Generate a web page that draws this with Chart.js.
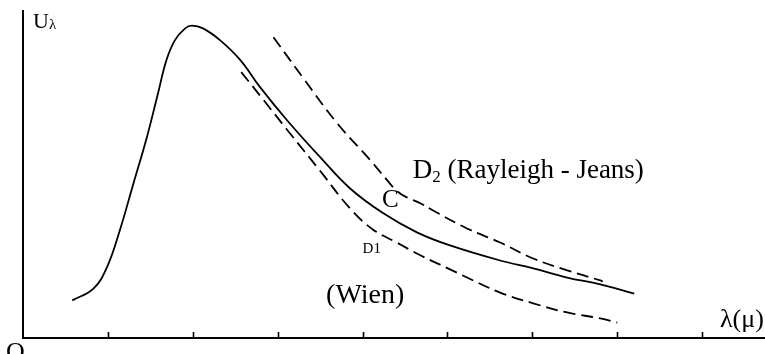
<!DOCTYPE html>
<html>
<head>
<meta charset="utf-8">
<script src="https://cdn.jsdelivr.net/npm/chart.js@4/dist/chart.umd.min.js"></script>
<style>
html, body { margin: 0; padding: 0; background: #fff; }
#wrap { width: 765px; height: 354px; }
</style>
</head>
<body>
<div id="wrap"><canvas id="chart"></canvas></div>
<script>
// wavelength in tick units, intensity 0-100
const planckX = [0.58, 0.83, 0.99, 1.14, 1.30, 1.46, 1.59, 1.69, 1.79, 1.91, 1.99, 2.12, 2.32, 2.56, 2.79, 3.11, 3.50, 3.85, 4.24, 4.64, 5.03, 5.62, 6.01, 6.41, 6.80, 7.20];
const planckY = [11.5, 15.1, 21.7, 32.9, 47.2, 61.5, 74.8, 85.0, 91.1, 94.7, 95.5, 94.7, 91.1, 85.0, 76.8, 66.6, 55.3, 45.8, 38.2, 32.3, 28.3, 23.7, 21.3, 18.5, 16.4, 13.6];

const wienX = [2.57, 2.83, 3.11, 3.50, 3.85, 4.12, 4.41, 4.68, 5.03, 5.23, 5.62, 6.01, 6.41, 6.80, 7.00];
const wienY = [81.3, 72.9, 63.7, 51.1, 39.7, 33.2, 29.1, 25.3, 21.0, 18.5, 13.9, 10.6, 7.8, 6.0, 4.7];

const rjX = [2.95, 3.30, 3.70, 4.09, 4.32, 4.41, 4.52, 4.68, 4.83, 5.23, 5.62, 6.01, 6.41, 6.80, 6.83];
const rjY = [92.0, 79.5, 65.7, 54.4, 47.3, 44.8, 43.0, 41.2, 39.0, 33.5, 29.2, 24.3, 20.7, 17.6, 17.3];

const xTicks = [1, 2, 3, 4, 5, 6, 7, 8];
const yAxisLabel = ['U', 'λ'];
const xAxisLabel = 'λ(μ)';
const originLabel = 'O';
const curveLabel = 'C';
const wienLabel = ['D1', '(Wien)'];
const rjLabel = ['D', '2', ' (Rayleigh - Jeans)'];

function pts(xs, ys) {
    return xs.map((x, i) => ({ x: x, y: ys[i] }));
}

const SERIF = '"Liberation Serif", "Times New Roman", serif';

const sketch = {
    id: 'sketch',
    afterDatasetsDraw(chart) {
        const ctx = chart.ctx;
        const xs = chart.scales.x;
        const ys = chart.scales.y;
        const base = ys.getPixelForValue(0);
        ctx.save();
        ctx.strokeStyle = '#000';
        ctx.lineWidth = 1.6;
        xTicks.forEach(v => {
            const px = Math.round(xs.getPixelForValue(v)) + 0.5;
            ctx.beginPath();
            ctx.moveTo(px, base);
            ctx.lineTo(px, base - 6);
            ctx.stroke();
        });

        ctx.fillStyle = '#000';
        ctx.textBaseline = 'alphabetic';
        ctx.textAlign = 'left';
        const font = s => s + 'px ' + SERIF;

        // axis names
        const left = chart.chartArea.left;
        ctx.font = font(22);
        ctx.fillText(yAxisLabel[0], left + 10, 28);
        let w = ctx.measureText(yAxisLabel[0]).width;
        ctx.font = font(15);
        ctx.fillText(yAxisLabel[1], left + 10 + w, 29);

        ctx.font = font(26);
        ctx.fillText(xAxisLabel, 720, 327);
        ctx.fillText(originLabel, 6, 360);

        // curve names, placed in data units
        const P = (x, y) => [xs.getPixelForValue(x), ys.getPixelForValue(y)];
        let p = P(4.23, 40.0);
        ctx.font = font(25);
        ctx.fillText(curveLabel, p[0], p[1]);

        p = P(4.00, 25.9);
        ctx.font = font(15);
        ctx.fillText(wienLabel[0], p[0], p[1]);

        p = P(3.57, 10.6);
        ctx.font = font(28);
        ctx.fillText(wienLabel[1], p[0], p[1]);

        p = P(4.59, 48.9);
        ctx.font = font(27);
        ctx.fillText(rjLabel[0], p[0], p[1]);
        w = ctx.measureText(rjLabel[0]).width;
        ctx.font = font(17);
        ctx.fillText(rjLabel[1], p[0] + w, p[1] + 4);
        const w2 = ctx.measureText(rjLabel[1]).width;
        ctx.font = font(27);
        ctx.fillText(rjLabel[2], p[0] + w + w2, p[1]);
        ctx.restore();
    }
};

const lineStyle = {
    borderColor: '#000',
    borderWidth: 1.8,
    pointRadius: 0,
    fill: false,
    tension: 0.4
};

new Chart(document.getElementById('chart'), {
    type: 'line',
    data: {
        datasets: [
            Object.assign({ label: 'C', data: pts(planckX, planckY) }, lineStyle),
            Object.assign({ label: 'D1 (Wien)', data: pts(wienX, wienY), borderDash: [12, 6] }, lineStyle),
            Object.assign({ label: 'D2 (Rayleigh - Jeans)', data: pts(rjX, rjY), borderDash: [12, 6] }, lineStyle)
        ]
    },
    options: {
        responsive: true,
        maintainAspectRatio: false,
        animation: false,
        layout: { padding: { left: 23, top: 11, right: 0, bottom: 16 } },
        plugins: {
            legend: { display: false },
            tooltip: { enabled: false }
        },
        scales: {
            x: {
                type: 'linear',
                min: 0,
                max: 8.74,
                ticks: { display: false },
                grid: { display: false, drawTicks: false },
                border: { display: true, color: '#000', width: 2 }
            },
            y: {
                type: 'linear',
                min: 0,
                max: 100,
                ticks: { display: false },
                grid: { display: false, drawTicks: false },
                border: { display: true, color: '#000', width: 2 }
            }
        }
    },
    plugins: [sketch]
});
</script>
</body>
</html>
